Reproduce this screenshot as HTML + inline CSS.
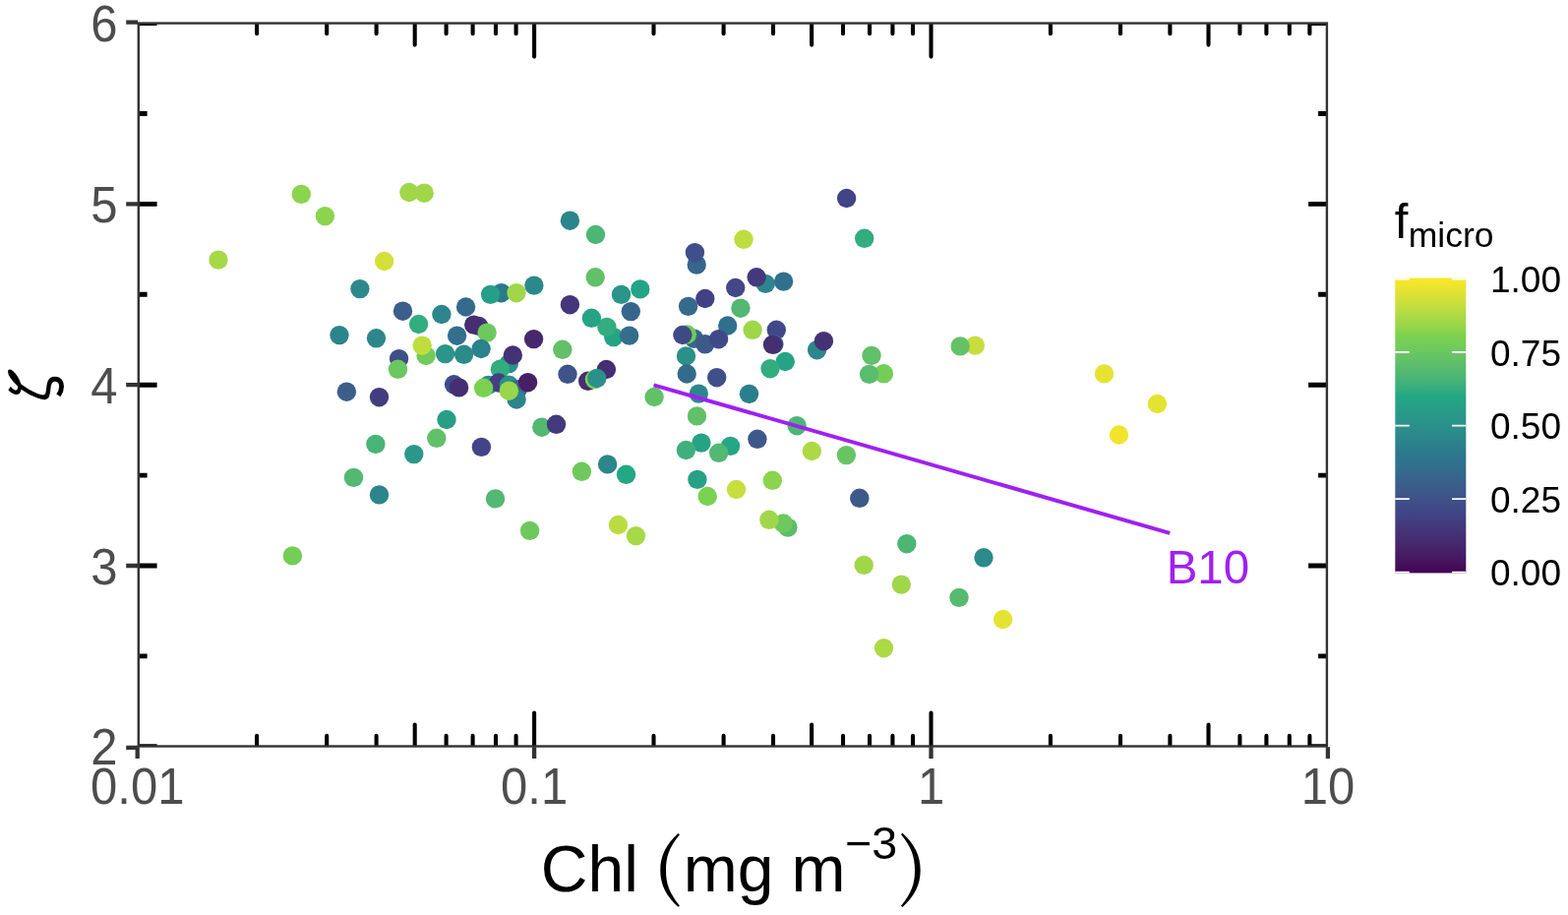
<!DOCTYPE html><html><head><meta charset="utf-8"><title>Chl vs zeta</title><style>html,body{margin:0;padding:0;background:#fff;overflow:hidden}svg{display:block}text{font-family:"Liberation Sans",Arial,sans-serif}.serif{font-family:"Liberation Serif","Times New Roman",serif}.paren{font-family:"Noto Serif CJK SC","Liberation Serif",serif}</style></head><body>
<svg width="1594" height="930" viewBox="0 0 1594 930">
<defs><clipPath id="pc"><rect x="140.8" y="23.6" width="1208.1" height="734.9"/></clipPath>
<linearGradient id="vg" x1="0" y1="1" x2="0" y2="0">
<stop offset="0.000" stop-color="#440154"/>
<stop offset="0.025" stop-color="#450e5a"/>
<stop offset="0.050" stop-color="#451860"/>
<stop offset="0.075" stop-color="#462067"/>
<stop offset="0.100" stop-color="#46286d"/>
<stop offset="0.125" stop-color="#452f73"/>
<stop offset="0.150" stop-color="#44367a"/>
<stop offset="0.175" stop-color="#433d80"/>
<stop offset="0.200" stop-color="#414487"/>
<stop offset="0.225" stop-color="#404b88"/>
<stop offset="0.250" stop-color="#3f5189"/>
<stop offset="0.275" stop-color="#3d588a"/>
<stop offset="0.300" stop-color="#3b5e8b"/>
<stop offset="0.325" stop-color="#38658c"/>
<stop offset="0.350" stop-color="#346b8c"/>
<stop offset="0.375" stop-color="#30728d"/>
<stop offset="0.400" stop-color="#2a788e"/>
<stop offset="0.425" stop-color="#2b7e8d"/>
<stop offset="0.450" stop-color="#2c848c"/>
<stop offset="0.475" stop-color="#2c8a8b"/>
<stop offset="0.500" stop-color="#2b9089"/>
<stop offset="0.525" stop-color="#2a9688"/>
<stop offset="0.550" stop-color="#289c87"/>
<stop offset="0.575" stop-color="#26a285"/>
<stop offset="0.600" stop-color="#22a884"/>
<stop offset="0.625" stop-color="#36ad7f"/>
<stop offset="0.650" stop-color="#44b279"/>
<stop offset="0.675" stop-color="#50b773"/>
<stop offset="0.700" stop-color="#5abc6d"/>
<stop offset="0.725" stop-color="#63c167"/>
<stop offset="0.750" stop-color="#6bc760"/>
<stop offset="0.775" stop-color="#73cc59"/>
<stop offset="0.800" stop-color="#7ad151"/>
<stop offset="0.825" stop-color="#8dd44d"/>
<stop offset="0.850" stop-color="#9fd749"/>
<stop offset="0.875" stop-color="#b0da45"/>
<stop offset="0.900" stop-color="#c0dd40"/>
<stop offset="0.925" stop-color="#d0e03a"/>
<stop offset="0.950" stop-color="#dfe234"/>
<stop offset="0.975" stop-color="#eee52d"/>
<stop offset="1.000" stop-color="#fde725"/>
</linearGradient></defs>
<rect width="1594" height="930" fill="#fff"/>
<g clip-path="url(#pc)">
<circle cx="222.0" cy="264.1" r="9.7" fill="#a6d847"/>
<circle cx="306.3" cy="197.4" r="9.7" fill="#8ad44e"/>
<circle cx="330.4" cy="219.6" r="9.7" fill="#8ad44e"/>
<circle cx="415.9" cy="195.5" r="9.7" fill="#9fd749"/>
<circle cx="431.2" cy="196.2" r="9.7" fill="#9fd749"/>
<circle cx="390.6" cy="265.5" r="9.7" fill="#d3e039"/>
<circle cx="365.9" cy="293.6" r="9.7" fill="#2c898b"/>
<circle cx="409.5" cy="316.2" r="9.7" fill="#3b5e8b"/>
<circle cx="579.4" cy="224.2" r="9.7" fill="#2c848c"/>
<circle cx="605.5" cy="238.5" r="9.7" fill="#4db674"/>
<circle cx="605.2" cy="281.8" r="9.7" fill="#61c068"/>
<circle cx="542.9" cy="290.1" r="9.7" fill="#2c898b"/>
<circle cx="509.7" cy="297.7" r="9.7" fill="#2a7a8e"/>
<circle cx="498.6" cy="299.4" r="9.7" fill="#279e86"/>
<circle cx="525.0" cy="297.7" r="9.7" fill="#9fd749"/>
<circle cx="473.6" cy="312.0" r="9.7" fill="#346b8c"/>
<circle cx="448.9" cy="319.5" r="9.7" fill="#2c868b"/>
<circle cx="579.4" cy="309.7" r="9.7" fill="#44367a"/>
<circle cx="631.5" cy="299.4" r="9.7" fill="#2a9588"/>
<circle cx="650.8" cy="293.9" r="9.7" fill="#25a385"/>
<circle cx="641.3" cy="316.6" r="9.7" fill="#37668c"/>
<circle cx="860.6" cy="201.5" r="9.7" fill="#414487"/>
<circle cx="878.7" cy="242.3" r="9.7" fill="#33ac80"/>
<circle cx="756.0" cy="243.3" r="9.7" fill="#c0dd40"/>
<circle cx="708.2" cy="269.1" r="9.7" fill="#37668c"/>
<circle cx="706.4" cy="256.7" r="9.7" fill="#3f4f89"/>
<circle cx="778.2" cy="288.4" r="9.7" fill="#2c868b"/>
<circle cx="769.1" cy="281.8" r="9.7" fill="#44397c"/>
<circle cx="796.6" cy="286.1" r="9.7" fill="#31708d"/>
<circle cx="747.7" cy="292.5" r="9.7" fill="#414787"/>
<circle cx="716.8" cy="303.5" r="9.7" fill="#424184"/>
<circle cx="699.6" cy="311.4" r="9.7" fill="#346b8c"/>
<circle cx="752.9" cy="313.2" r="9.7" fill="#52b872"/>
<circle cx="425.6" cy="329.5" r="9.7" fill="#33ac80"/>
<circle cx="345.0" cy="340.6" r="9.7" fill="#2c848c"/>
<circle cx="382.5" cy="343.8" r="9.7" fill="#2c868b"/>
<circle cx="464.6" cy="341.2" r="9.7" fill="#336e8d"/>
<circle cx="486.8" cy="331.5" r="9.7" fill="#453477"/>
<circle cx="481.7" cy="330.1" r="9.7" fill="#452e72"/>
<circle cx="495.1" cy="338.1" r="9.7" fill="#6ec95d"/>
<circle cx="489.1" cy="354.5" r="9.7" fill="#2b818c"/>
<circle cx="433.1" cy="361.5" r="9.7" fill="#71cb5a"/>
<circle cx="429.2" cy="351.2" r="9.7" fill="#c0dd40"/>
<circle cx="452.6" cy="359.6" r="9.7" fill="#2a9588"/>
<circle cx="471.6" cy="360.3" r="9.7" fill="#2c8b8a"/>
<circle cx="405.6" cy="364.7" r="9.7" fill="#3f4f89"/>
<circle cx="404.5" cy="375.3" r="9.7" fill="#6bc760"/>
<circle cx="542.6" cy="344.6" r="9.7" fill="#46286d"/>
<circle cx="571.8" cy="355.3" r="9.7" fill="#61c068"/>
<circle cx="577.0" cy="380.3" r="9.7" fill="#3e5489"/>
<circle cx="517.4" cy="369.6" r="9.7" fill="#2b9089"/>
<circle cx="508.4" cy="375.2" r="9.7" fill="#33ac80"/>
<circle cx="521.3" cy="361.0" r="9.7" fill="#453175"/>
<circle cx="461.5" cy="390.8" r="9.7" fill="#404c88"/>
<circle cx="466.6" cy="393.9" r="9.7" fill="#452e72"/>
<circle cx="496.3" cy="391.5" r="9.7" fill="#2b8d8a"/>
<circle cx="506.8" cy="389.0" r="9.7" fill="#433f82"/>
<circle cx="491.6" cy="394.3" r="9.7" fill="#7ad151"/>
<circle cx="517.4" cy="391.3" r="9.7" fill="#2b9089"/>
<circle cx="526.3" cy="395.8" r="9.7" fill="#37668c"/>
<circle cx="536.6" cy="388.7" r="9.7" fill="#461f65"/>
<circle cx="525.1" cy="406.0" r="9.7" fill="#2c848c"/>
<circle cx="517.4" cy="397.2" r="9.7" fill="#98d64b"/>
<circle cx="454.0" cy="426.5" r="9.7" fill="#279e86"/>
<circle cx="443.8" cy="445.3" r="9.7" fill="#61c068"/>
<circle cx="550.8" cy="434.2" r="9.7" fill="#52b872"/>
<circle cx="565.5" cy="431.3" r="9.7" fill="#44397c"/>
<circle cx="623.7" cy="342.6" r="9.7" fill="#25a385"/>
<circle cx="616.9" cy="332.4" r="9.7" fill="#33ac80"/>
<circle cx="601.4" cy="323.3" r="9.7" fill="#25a385"/>
<circle cx="639.7" cy="341.1" r="9.7" fill="#336e8d"/>
<circle cx="705.5" cy="344.2" r="9.7" fill="#37668c"/>
<circle cx="698.4" cy="340.0" r="9.7" fill="#71cb5a"/>
<circle cx="693.9" cy="340.5" r="9.7" fill="#404988"/>
<circle cx="697.5" cy="361.9" r="9.7" fill="#2b9089"/>
<circle cx="698.2" cy="380.0" r="9.7" fill="#346b8c"/>
<circle cx="616.4" cy="375.5" r="9.7" fill="#452e72"/>
<circle cx="597.7" cy="387.3" r="9.7" fill="#452e72"/>
<circle cx="604.4" cy="385.6" r="9.7" fill="#7ad151"/>
<circle cx="606.8" cy="384.5" r="9.7" fill="#2b9089"/>
<circle cx="665.1" cy="403.5" r="9.7" fill="#61c068"/>
<circle cx="739.7" cy="331.0" r="9.7" fill="#31708d"/>
<circle cx="765.1" cy="335.3" r="9.7" fill="#9fd749"/>
<circle cx="789.3" cy="335.3" r="9.7" fill="#404988"/>
<circle cx="786.9" cy="349.8" r="9.7" fill="#3b5e8b"/>
<circle cx="785.5" cy="350.3" r="9.7" fill="#452e72"/>
<circle cx="798.2" cy="367.5" r="9.7" fill="#25a385"/>
<circle cx="783.0" cy="374.7" r="9.7" fill="#33ac80"/>
<circle cx="716.8" cy="349.8" r="9.7" fill="#3d598a"/>
<circle cx="730.6" cy="344.7" r="9.7" fill="#404988"/>
<circle cx="728.7" cy="383.7" r="9.7" fill="#3f4f89"/>
<circle cx="830.6" cy="355.7" r="9.7" fill="#2c868b"/>
<circle cx="837.4" cy="346.7" r="9.7" fill="#453175"/>
<circle cx="886.0" cy="361.4" r="9.7" fill="#61c068"/>
<circle cx="898.4" cy="379.8" r="9.7" fill="#74cd57"/>
<circle cx="883.6" cy="380.4" r="9.7" fill="#5abc6d"/>
<circle cx="991.3" cy="351.1" r="9.7" fill="#c7de3e"/>
<circle cx="976.2" cy="351.9" r="9.7" fill="#64c265"/>
<circle cx="710.3" cy="400.1" r="9.7" fill="#2c868b"/>
<circle cx="761.5" cy="400.4" r="9.7" fill="#2b7f8d"/>
<circle cx="708.5" cy="422.9" r="9.7" fill="#61c068"/>
<circle cx="810.1" cy="432.7" r="9.7" fill="#4db674"/>
<circle cx="769.9" cy="446.3" r="9.7" fill="#3d598a"/>
<circle cx="712.9" cy="450.1" r="9.7" fill="#25a385"/>
<circle cx="742.5" cy="453.4" r="9.7" fill="#24a685"/>
<circle cx="730.7" cy="460.3" r="9.7" fill="#52b872"/>
<circle cx="697.4" cy="457.5" r="9.7" fill="#3fb07b"/>
<circle cx="825.3" cy="458.5" r="9.7" fill="#add945"/>
<circle cx="860.4" cy="462.6" r="9.7" fill="#68c463"/>
<circle cx="708.9" cy="487.4" r="9.7" fill="#26a186"/>
<circle cx="748.5" cy="497.5" r="9.7" fill="#c7de3e"/>
<circle cx="785.3" cy="488.3" r="9.7" fill="#8ad44e"/>
<circle cx="719.2" cy="504.5" r="9.7" fill="#7ad151"/>
<circle cx="800.9" cy="536.1" r="9.7" fill="#5abc6d"/>
<circle cx="796.3" cy="532.0" r="9.7" fill="#6ec95d"/>
<circle cx="781.9" cy="528.3" r="9.7" fill="#9fd749"/>
<circle cx="873.8" cy="506.3" r="9.7" fill="#3d598a"/>
<circle cx="1122.5" cy="379.9" r="9.7" fill="#e5e332"/>
<circle cx="1176.5" cy="410.5" r="9.7" fill="#e5e332"/>
<circle cx="1137.5" cy="442.0" r="9.7" fill="#f1e52c"/>
<circle cx="921.8" cy="552.7" r="9.7" fill="#4db674"/>
<circle cx="1000.0" cy="566.8" r="9.7" fill="#2c8b8a"/>
<circle cx="878.2" cy="574.4" r="9.7" fill="#9fd749"/>
<circle cx="916.3" cy="594.1" r="9.7" fill="#9fd749"/>
<circle cx="975.0" cy="607.4" r="9.7" fill="#56ba6f"/>
<circle cx="1019.6" cy="629.5" r="9.7" fill="#e5e332"/>
<circle cx="898.5" cy="658.7" r="9.7" fill="#add945"/>
<circle cx="352.4" cy="398.2" r="9.7" fill="#3b5e8b"/>
<circle cx="385.5" cy="403.7" r="9.7" fill="#433c7f"/>
<circle cx="381.9" cy="451.4" r="9.7" fill="#49b477"/>
<circle cx="420.8" cy="461.6" r="9.7" fill="#2a9788"/>
<circle cx="359.5" cy="485.4" r="9.7" fill="#52b872"/>
<circle cx="385.5" cy="502.9" r="9.7" fill="#2c848c"/>
<circle cx="297.4" cy="564.9" r="9.7" fill="#74cd57"/>
<circle cx="489.4" cy="454.4" r="9.7" fill="#414487"/>
<circle cx="591.4" cy="479.3" r="9.7" fill="#6ec95d"/>
<circle cx="617.6" cy="471.9" r="9.7" fill="#2c868b"/>
<circle cx="636.5" cy="482.3" r="9.7" fill="#22a884"/>
<circle cx="503.5" cy="506.9" r="9.7" fill="#52b872"/>
<circle cx="538.6" cy="539.4" r="9.7" fill="#6ec95d"/>
<circle cx="628.4" cy="533.5" r="9.7" fill="#badc42"/>
<circle cx="646.5" cy="544.6" r="9.7" fill="#a6d847"/>
</g>
<line x1="664.5" y1="391.3" x2="1189.2" y2="541.9" stroke="#a020f0" stroke-width="4"/>
<text x="1185.7" y="592.9" font-size="47.5" fill="#a020f0">B10</text>
<g clip-path="url(#pc)">
<path d="M139.8 758.8H159.6 M1349.9 758.8H1330.1 M139.8 575.0H159.6 M1349.9 575.0H1330.1 M139.8 391.2H159.6 M1349.9 391.2H1330.1 M139.8 207.4H159.6 M1349.9 207.4H1330.1 M139.8 23.6H159.6 M1349.9 23.6H1330.1 M139.8 666.9H149.6 M1349.9 666.9H1340.1 M139.8 483.1H149.6 M1349.9 483.1H1340.1 M139.8 299.3H149.6 M1349.9 299.3H1340.1 M139.8 115.5H149.6 M1349.9 115.5H1340.1" stroke="#000" stroke-width="4.9" fill="none"/>
<path d="M261.1 758.5V747.9 M261.1 23.6V34.2 M332.2 758.5V747.9 M332.2 23.6V34.2 M382.6 758.5V747.9 M382.6 23.6V34.2 M421.7 758.5V736.5 M421.7 23.6V45.6 M453.6 758.5V747.9 M453.6 23.6V34.2 M480.6 758.5V747.9 M480.6 23.6V34.2 M504.0 758.5V747.9 M504.0 23.6V34.2 M524.6 758.5V747.9 M524.6 23.6V34.2 M543.1 758.5V724.5 M543.1 23.6V57.6 M664.5 758.5V747.9 M664.5 23.6V34.2 M735.6 758.5V747.9 M735.6 23.6V34.2 M786.0 758.5V747.9 M786.0 23.6V34.2 M825.1 758.5V736.5 M825.1 23.6V45.6 M857.0 758.5V747.9 M857.0 23.6V34.2 M884.0 758.5V747.9 M884.0 23.6V34.2 M907.4 758.5V747.9 M907.4 23.6V34.2 M928.0 758.5V747.9 M928.0 23.6V34.2 M946.5 758.5V724.5 M946.5 23.6V57.6 M1067.9 758.5V747.9 M1067.9 23.6V34.2 M1139.0 758.5V747.9 M1139.0 23.6V34.2 M1189.4 758.5V747.9 M1189.4 23.6V34.2 M1228.5 758.5V736.5 M1228.5 23.6V45.6 M1260.4 758.5V747.9 M1260.4 23.6V34.2 M1287.4 758.5V747.9 M1287.4 23.6V34.2 M1310.8 758.5V747.9 M1310.8 23.6V34.2 M1331.4 758.5V747.9 M1331.4 23.6V34.2" stroke="#000" stroke-width="4.1" stroke-linecap="round" fill="none"/>
</g>
<rect x="140.8" y="23.6" width="1208.1" height="734.9" fill="none" stroke="#333" stroke-width="2.4"/>
<path d="M128.2 759.8H140.0 M128.2 575.0H140.0 M128.2 391.2H140.0 M128.2 207.4H140.0 M128.2 22.6H140.0 M139.7 759.3V771.0 M543.1 759.3V771.0 M946.5 759.3V771.0 M1349.9 759.3V771.0" stroke="#333" stroke-width="4.3" fill="none"/>
<text transform="translate(119.5,777.4) scale(1,1.07)" font-size="49" fill="#4d4d4d" text-anchor="end">2</text>
<text transform="translate(119.5,593.6) scale(1,1.07)" font-size="49" fill="#4d4d4d" text-anchor="end">3</text>
<text transform="translate(119.5,409.8) scale(1,1.07)" font-size="49" fill="#4d4d4d" text-anchor="end">4</text>
<text transform="translate(119.5,226.0) scale(1,1.07)" font-size="49" fill="#4d4d4d" text-anchor="end">5</text>
<text transform="translate(119.5,42.2) scale(1,1.07)" font-size="49" fill="#4d4d4d" text-anchor="end">6</text>
<text transform="translate(139.7,817.3) scale(1,1.07)" font-size="49" fill="#4d4d4d" text-anchor="middle">0.01</text>
<text transform="translate(543.1,817.3) scale(1,1.07)" font-size="49" fill="#4d4d4d" text-anchor="middle">0.1</text>
<text transform="translate(946.5,817.3) scale(1,1.07)" font-size="49" fill="#4d4d4d" text-anchor="middle">1</text>
<text transform="translate(1349.9,817.3) scale(1,1.07)" font-size="49" fill="#4d4d4d" text-anchor="middle">10</text>
<text x="549.8" y="906" font-size="66" fill="#000">Chl</text>
<text class="paren" transform="translate(663.7,905.7) scale(0.924,0.822)" font-size="88" fill="#000">(</text>
<text x="694.7" y="906" font-size="66" fill="#000">mg</text>
<text x="804.4" y="906" font-size="66" fill="#000">m</text>
<text x="859.1" y="872.7" font-size="46.5" fill="#000">−3</text>
<text class="paren" transform="translate(913.5,905.8) scale(0.924,0.827)" font-size="88" fill="#000">)</text>
<text transform="translate(58.6,423.3) rotate(-90) scale(0.91,0.986)" font-size="67" fill="#000" style="font-family:IPAGothic,'Liberation Serif',serif">ζ</text>
<rect x="1418.3" y="282.6" width="72" height="299.8" fill="url(#vg)"/>
<path d="M1418.3 581.6H1432.8 M1490.3 581.6H1476 M1418.3 507.1H1432.8 M1490.3 507.1H1476 M1418.3 432.6H1432.8 M1490.3 432.6H1476 M1418.3 358.0H1432.8 M1490.3 358.0H1476 M1418.3 283.5H1432.8 M1490.3 283.5H1476" stroke="#fff" stroke-width="1.8" fill="none"/>
<text x="1515" y="595.4" font-size="37" fill="#000">0.00</text>
<text x="1515" y="520.9" font-size="37" fill="#000">0.25</text>
<text x="1515" y="446.4" font-size="37" fill="#000">0.50</text>
<text x="1515" y="371.8" font-size="37" fill="#000">0.75</text>
<text x="1515" y="297.3" font-size="37" fill="#000">1.00</text>
<text transform="translate(1417.7,241.9) scale(1,1.03)" font-size="49" fill="#000">f</text>
<text x="1431.8" y="250.9" font-size="35.5" fill="#000">micro</text>
</svg></body></html>
